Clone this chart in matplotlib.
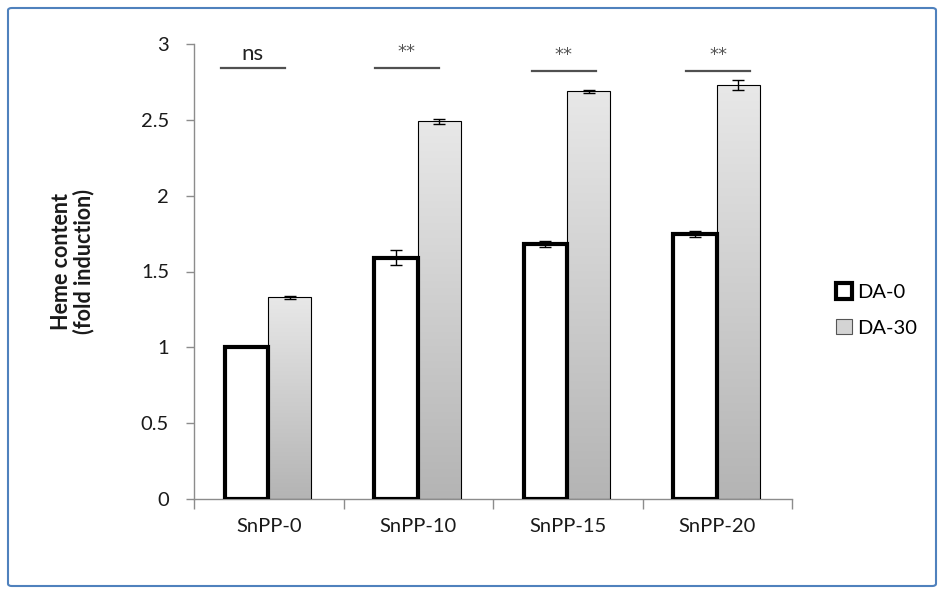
import numpy as np
import matplotlib.pyplot as plt
from matplotlib.patches import Patch, FancyBboxPatch
from matplotlib.colors import LinearSegmentedColormap

# data
categories = ['SnPP-0', 'SnPP-10', 'SnPP-15', 'SnPP-20']
da0 = [1.00, 1.59, 1.68, 1.75]
da0_err = [0.0, 0.05, 0.02, 0.02]
da30 = [1.33, 2.49, 2.69, 2.73]
da30_err = [0.01, 0.015, 0.01, 0.03]
sig_labels = ['ns', '**', '**', '**']
sig_level = [2.84, 2.84, 2.82, 2.82]

plt.rcParams['font.family'] = ['Lato', 'DejaVu Sans']

fig = plt.figure(figsize=(9.44, 5.94), dpi=100)
ax = fig.add_axes([194/944, 95/594, 598/944, 455/594])

x = np.arange(len(categories))
w = 0.29

# DA-0: white bars with heavy outline
b0 = ax.bar(x - 0.15, da0, w, color='white', edgecolor='black', linewidth=3, zorder=3)

# DA-30: gray gradient bars
b30 = ax.bar(x + 0.14, da30, w, color='none', edgecolor='black', linewidth=0.8, zorder=3)
gray_cmap = LinearSegmentedColormap.from_list('g', ['#b4b4b4', '#e8e8e8'])
grad = np.linspace(0, 1, 256).reshape(-1, 1)
for bar in b30:
    x0 = bar.get_x()
    im = ax.imshow(grad, cmap=gray_cmap, origin='lower', aspect='auto', zorder=2,
                   extent=[x0, x0 + bar.get_width(), 0, bar.get_height()])
    im.set_clip_path(bar)

ax.errorbar(x - 0.15, da0, yerr=da0_err, fmt='none', ecolor='black',
            elinewidth=1, capsize=4, capthick=1, zorder=4)
ax.errorbar(x + 0.14, da30, yerr=da30_err, fmt='none', ecolor='black',
            elinewidth=1, capsize=4, capthick=1, zorder=4)

# significance marks
sig_shift = [-0.107, -0.077, -0.027, 0.007]
for i, lab in enumerate(sig_labels):
    c = x[i] + sig_shift[i]
    ax.plot([c - 0.215, c + 0.215], [sig_level[i], sig_level[i]], color='#505050',
            lw=1.6, clip_on=False, zorder=5)
    if lab == 'ns':
        ax.text(c, sig_level[i] + 0.03, lab, ha='center', va='bottom', fontsize=16,
                color='#222222', clip_on=False)
    else:
        ax.text(c, sig_level[i] + 0.05, lab, ha='center', va='bottom', fontsize=13,
                color='#555555', clip_on=False, family='DejaVu Sans')

ax.set_xlim(-0.5, len(categories) - 0.5)
ax.set_ylim(0, 3)
ax.set_yticks([0, 0.5, 1, 1.5, 2, 2.5, 3])
ax.set_yticklabels(['0', '0.5', '1', '1.5', '2', '2.5', '3'])
ax.set_xticks(np.arange(len(categories) + 1) - 0.5)
ax.set_xticklabels([])
ax.set_xticks(x, minor=True)
ax.set_xticklabels(categories, minor=True)
ax.tick_params(axis='x', which='major', length=7, width=1, color='#8c8c8c', direction='out')
ax.tick_params(axis='x', which='minor', length=0, pad=14, labelsize=14.5, labelcolor='#1a1a1a')
ax.tick_params(axis='y', length=6, width=1, color='#8c8c8c', direction='out',
               pad=12, labelsize=14.5, labelcolor='#1a1a1a')

for s in ['top', 'right']:
    ax.spines[s].set_visible(False)
for s in ['left', 'bottom']:
    ax.spines[s].set_color('#8c8c8c')
    ax.spines[s].set_linewidth(1)

fig.text(73/944, (594 - 262)/594, 'Heme content\n(fold induction)', rotation=90,
         ha='center', va='center', fontsize=15.5, fontweight='bold', color='#1a1a1a',
         linespacing=1.05)

handles = [Patch(facecolor='white', edgecolor='black', linewidth=3),
           Patch(facecolor='#d4d4d4', edgecolor='#555555', linewidth=0.8)]
fig.legend(handles, ['DA-0', 'DA-30'], loc='center left',
           bbox_to_anchor=(818/944, (594 - 310)/594), frameon=False,
           handlelength=0.8, handleheight=0.8, handletextpad=0.25,
           labelspacing=0.9, fontsize=14.5)

# chart frame
fig.patches.append(FancyBboxPatch((8/944, 8/594), 928/944, 578/594,
                                  boxstyle='round,pad=0,rounding_size=0.004',
                                  transform=fig.transFigure, facecolor='none',
                                  edgecolor='#4f81bd', linewidth=1.5))

fig.savefig('out.png', dpi=100)
